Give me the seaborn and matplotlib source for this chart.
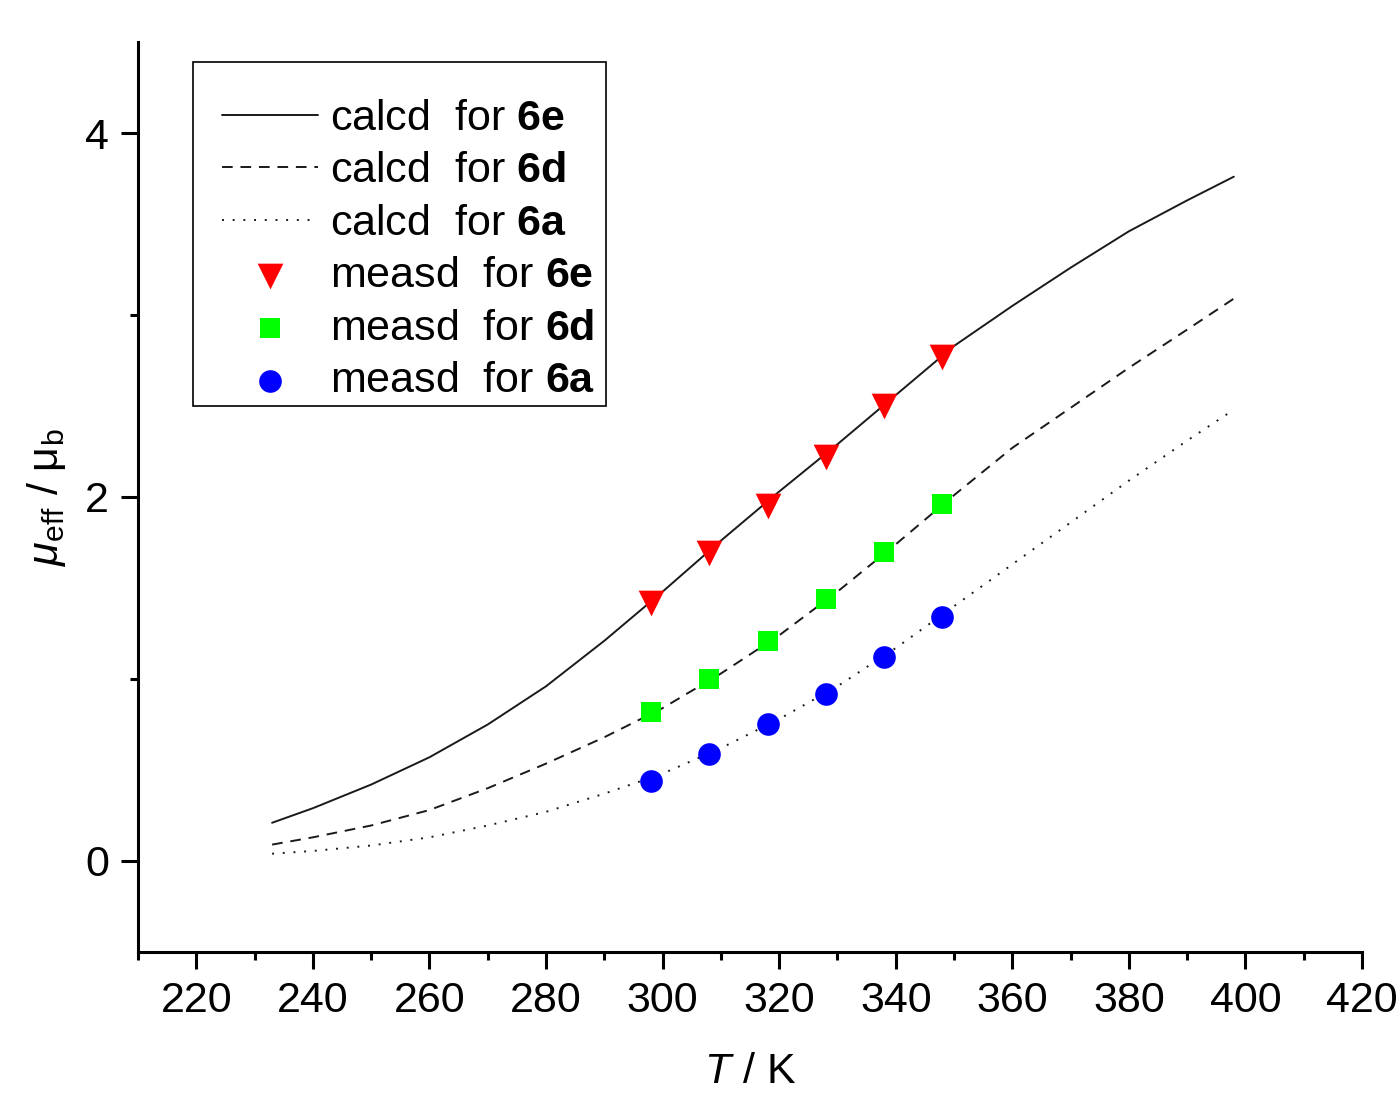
import matplotlib
matplotlib.use("Agg")
import matplotlib.pyplot as plt
import seaborn as sns
from matplotlib.ticker import MultipleLocator
from matplotlib.patches import Rectangle

# calculated curves
T_calc = [233, 240, 250, 260, 270, 280, 290, 300, 310, 320, 330, 340, 350, 360, 370, 380, 390, 398]
calc_6e = [0.21, 0.29, 0.42, 0.57, 0.75, 0.96, 1.21, 1.48, 1.76, 2.03, 2.29, 2.56, 2.83, 3.05, 3.26, 3.46, 3.63, 3.76]
calc_6d = [0.09, 0.13, 0.195, 0.28, 0.40, 0.535, 0.68, 0.84, 1.03, 1.24, 1.48, 1.74, 2.01, 2.27, 2.49, 2.71, 2.92, 3.09]
calc_6a = [0.04, 0.055, 0.085, 0.13, 0.195, 0.27, 0.37, 0.48, 0.62, 0.78, 0.96, 1.17, 1.40, 1.63, 1.86, 2.09, 2.31, 2.48]

# measured points
T_meas = [298, 308, 318, 328, 338, 348]
meas_6e = [1.415, 1.69, 1.95, 2.22, 2.50, 2.77]
meas_6d = [0.82, 1.00, 1.21, 1.44, 1.70, 1.96]
meas_6a = [0.44, 0.59, 0.75, 0.92, 1.12, 1.34]

sns.set_style("white")
plt.rcParams['font.family'] = ['Liberation Sans', 'DejaVu Sans']
plt.rcParams['mathtext.fontset'] = 'custom'
plt.rcParams['mathtext.rm'] = 'Liberation Sans'
plt.rcParams['mathtext.it'] = 'Liberation Sans:italic'
plt.rcParams['mathtext.bf'] = 'Liberation Sans:bold'
for key in ['text.color', 'axes.labelcolor', 'xtick.color', 'ytick.color']:
    plt.rcParams[key] = 'black'

fs = 31
fig = plt.figure(figsize=(14, 10.97), dpi=100)
ax = fig.add_axes([0.0986, 0.1322, 0.8743, 0.8295])

line_col = '#1a1a1a'
sns.lineplot(x=T_calc, y=calc_6e, color=line_col, lw=1.4, ls='-', ax=ax, label=r'calcd  for $\mathbf{6e}$')
sns.lineplot(x=T_calc, y=calc_6d, color=line_col, lw=1.4, ls=(0, (5.5, 4)), ax=ax, label=r'calcd  for $\mathbf{6d}$')
sns.lineplot(x=T_calc, y=calc_6a, color=line_col, lw=1.4, ls=(0, (1, 4.5)), ax=ax, label=r'calcd  for $\mathbf{6a}$')

sns.scatterplot(x=T_meas, y=meas_6e, marker='v', color='#ff0000', s=18.5**2, linewidth=0, ax=ax, label=r'measd  for $\mathbf{6e}$', zorder=3)
sns.scatterplot(x=T_meas, y=meas_6d, marker='s', color='#00ff00', s=13.7**2, linewidth=0, ax=ax, label=r'measd  for $\mathbf{6d}$', zorder=3)
sns.scatterplot(x=T_meas, y=meas_6a, marker='o', color='#0000ff', s=16.3**2, linewidth=0, ax=ax, label=r'measd  for $\mathbf{6a}$', zorder=3)

ax.set_xlim(210, 420)
ax.set_ylim(-0.5, 4.5)
ax.xaxis.set_major_locator(MultipleLocator(20))
ax.xaxis.set_minor_locator(MultipleLocator(10))
ax.yaxis.set_major_locator(MultipleLocator(2))
ax.yaxis.set_minor_locator(MultipleLocator(1))

for side in ['top', 'right']:
    ax.spines[side].set_visible(False)
for side in ['left', 'bottom']:
    ax.spines[side].set_linewidth(2.2)
    ax.spines[side].set_color('black')

ax.tick_params(which='major', direction='out', length=12, width=2.2, labelsize=fs, pad=9,
               bottom=True, left=True)
ax.tick_params(which='minor', direction='out', length=6, width=2.2, bottom=True, left=True)

ax.set_xlabel(r'$\mathit{T}$ / K', fontsize=fs, labelpad=22)
ax.set_ylabel(r'$\mu_{\mathrm{eff}}$ / $\mathrm{\mu}_{\mathrm{b}}$', fontsize=fs, labelpad=12)

# legend without its own frame; box drawn separately to match the padding
leg = ax.legend(loc='center left', bbox_to_anchor=(0.0686, 0.7714), borderaxespad=0,
                fontsize=fs, frameon=False, borderpad=0,
                handlelength=2.23, handletextpad=0.28, labelspacing=0.29)
ax.add_patch(Rectangle((0.0449, 0.6), 0.3374, 0.378, transform=ax.transAxes,
                       fill=False, edgecolor='black', lw=1.2, zorder=4))

fig.savefig('out.png', dpi=100)
